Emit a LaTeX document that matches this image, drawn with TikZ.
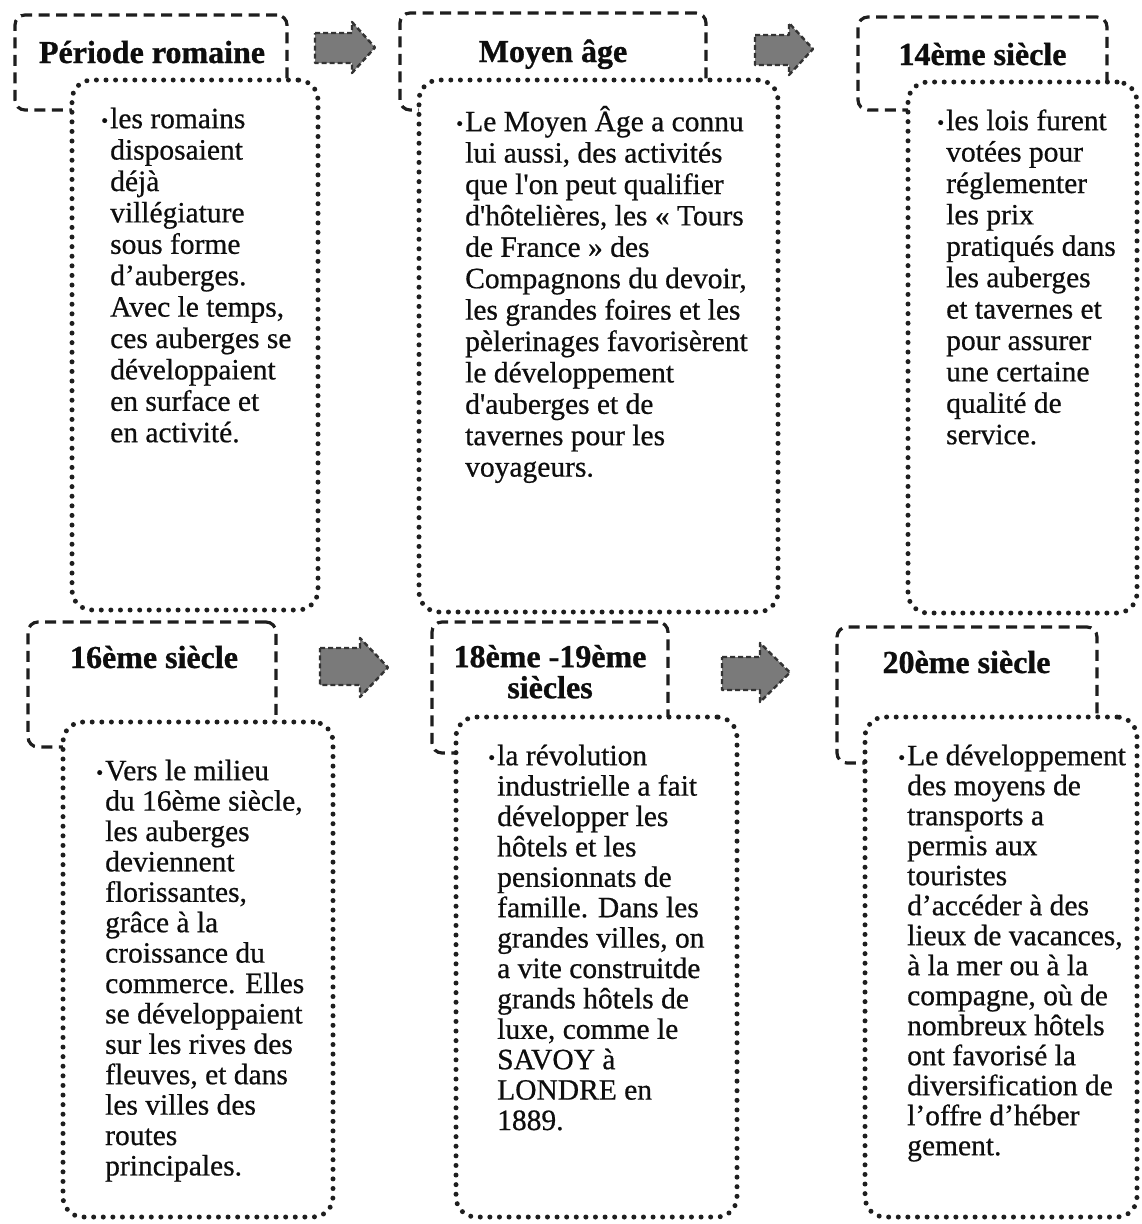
\documentclass[tikz,border=0pt]{standalone}
\usepackage{fontspec}
\setmainfont{Liberation Serif}[Ligatures=TeXOff, UprightFeatures={FakeBold=0.6}, BoldFeatures={FakeBold=0.9}]
\definecolor{linec}{HTML}{1E1E1E}
\definecolor{arrowgray}{HTML}{7A7A7A}
\definecolor{arrowline}{HTML}{333333}
\definecolor{textc}{HTML}{0E0E0E}
\newcommand{\bul}{\llap{\raisebox{1pt}{\fontsize{20}{20}\selectfont •}\hspace{2pt}}}
\begin{document}
\begin{tikzpicture}[x=1pt,y=-1pt,
  hdr/.style={draw=linec, line width=3.2pt, dash pattern=on 11pt off 6.5pt, rounded corners=10pt, fill=white, inner sep=0pt},
  dotbox/.style={draw=linec, line width=5pt, dash pattern=on 0pt off 9.6pt, line cap=round, rounded corners=20pt, fill=white, inner sep=0pt},
  hdrtext/.style={font=\fontsize{32}{31}\selectfont\bfseries, text=textc, inner sep=0pt, align=center},
  bodyA/.style={font=\fontsize{29.5}{31.4}\selectfont, text=textc, inner sep=0pt, align=left, anchor=north west},
  bodyB/.style={font=\fontsize{29.5}{30.4}\selectfont, text=textc, inner sep=0pt, align=left, anchor=north west},
  arrowshape/.style={fill=arrowgray, draw=arrowline, line width=2.4pt, dash pattern=on 5pt off 3pt, line join=round}
]
\useasboundingbox[fill=white] (0,0) rectangle (1141,1224);

% ---------- Row 1 ----------
\node[hdr, minimum width=272pt, minimum height=95pt] (h1) at (151,62.5) {};
\node[dotbox, minimum width=246pt, minimum height=530pt] (b1) at (195,345) {};
\node[hdrtext, anchor=base] (h1t) at (152,63) {Période romaine};
\node[bodyA] (b1t) at (110,100) {\rule{0pt}{28pt}\bul les romains\\disposaient\\déjà\\villégiature\\sous forme\\d’auberges.\\Avec le temps,\\ces auberges se\\développaient\\en surface et\\en activité.};

\node[hdr, minimum width=306pt, minimum height=97pt] (h2) at (553,61.5) {};
\node[dotbox, minimum width=359pt, minimum height=532pt] (b2) at (598.5,346) {};
\node[hdrtext, anchor=base] (h2t) at (553,62) {Moyen âge};
\node[bodyA] (b2t) at (465,103) {\rule{0pt}{28pt}\bul Le Moyen Âge a connu\\lui aussi, des activités\\que l'on peut qualifier\\d'hôtelières, les « Tours\\de France » des\\Compagnons du devoir,\\les grandes foires et les\\pèlerinages favorisèrent\\le développement\\d'auberges et de\\tavernes pour les\\voyageurs.};

\node[hdr, minimum width=249pt, minimum height=93pt] (h3) at (982.5,63.5) {};
\node[dotbox, minimum width=229pt, minimum height=531pt] (b3) at (1022.5,347.5) {};
\node[hdrtext, anchor=base] (h3t) at (982.5,65) {14ème siècle};
\node[bodyA] (b3t) at (946,102) {\rule{0pt}{28pt}\bul les lois furent\\votées pour\\réglementer\\les prix\\pratiqués dans\\les auberges\\et tavernes et\\pour assurer\\une certaine\\qualité de\\service.};

% ---------- Row 2 ----------
\node[hdr, minimum width=248pt, minimum height=125pt] (h4) at (152,684.5) {};
\node[dotbox, minimum width=270pt, minimum height=495pt] (b4) at (198,969.5) {};
\node[hdrtext, anchor=base] (h4t) at (154,668) {16ème siècle};
\node[bodyB] (b4t) at (105,752) {\rule{0pt}{28pt}\bul Vers le milieu\\du 16ème siècle,\\les auberges\\deviennent\\florissantes,\\grâce à la\\croissance du\\commerce. Elles\\se développaient\\sur les rives des\\fleuves, et dans\\les villes des\\routes\\principales.};

\node[hdr, minimum width=236pt, minimum height=131pt] (h5) at (550,687.5) {};
\node[dotbox, minimum width=281pt, minimum height=500pt] (b5) at (596.5,967) {};
\node[hdrtext, anchor=north] (h5t) at (550,643) {\rule{0pt}{24pt}18ème -19ème\\siècles};
\node[bodyB] (b5t) at (497,737) {\rule{0pt}{28pt}\bul la révolution\\industrielle a fait\\développer les\\hôtels et les\\pensionnats de\\famille. Dans les\\grandes villes, on\\a vite construitde\\grands hôtels de\\luxe, comme le\\SAVOY à\\LONDRE en\\1889.};

\node[hdr, minimum width=260pt, minimum height=136pt] (h6) at (967,695) {};
\node[dotbox, minimum width=272pt, minimum height=500pt] (b6) at (1001,967) {};
\node[hdrtext, anchor=base] (h6t) at (966.5,673) {20ème siècle};
\node[bodyB, font=\fontsize{29.5}{30}\selectfont] (b6t) at (907,737) {\rule{0pt}{28pt}\bul Le développement\\des moyens de\\transports a\\permis aux\\touristes\\d’accéder à des\\lieux de vacances,\\à la mer ou à la\\compagne, où de\\nombreux hôtels\\ont favorisé la\\diversification de\\l’offre d’héber\\gement.};

% ---------- Arrows ----------
\draw[arrowshape] (315,33) -- (352,33) -- (352,22) -- (375,47.5) -- (352,73) -- (352,63) -- (315,63) -- cycle;
\draw[arrowshape] (755,35) -- (789,35) -- (789,23) -- (813,49) -- (789,75) -- (789,65) -- (755,65) -- cycle;
\draw[arrowshape] (320,648) -- (360,648) -- (360,638) -- (388,667.5) -- (360,697) -- (360,685) -- (320,685) -- cycle;
\draw[arrowshape] (722,657) -- (760,657) -- (760,643) -- (790,672.5) -- (760,702) -- (760,690) -- (722,690) -- cycle;
\end{tikzpicture}
\end{document}
